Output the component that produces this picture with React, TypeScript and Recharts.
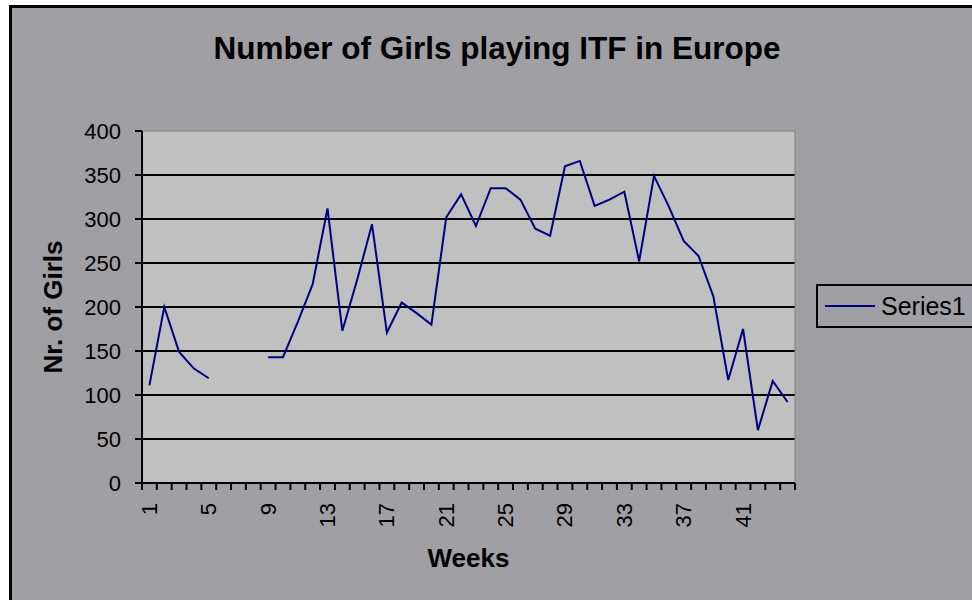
import React from "react";
import {
  LineChart,
  Line,
  XAxis,
  YAxis,
  Legend,
  CartesianGrid,
  ReferenceLine,
} from "recharts";

// weekly counts, weeks 6-8 have no data
const weeks = Array.from({ length: 44 }, (_, i) => i + 1);
const girls: (number | null)[] = [
  111, 200, 149, 130, 119, null, null, null, 143, 143,
  183, 226, 312, 173, 231, 294, 171, 205, 193, 180,
  302, 328, 292, 335, 335, 322, 289, 281, 360, 366,
  315, 322, 331, 252, 349, 314, 275, 258, 212, 117,
  175, 60, 116, 92,
];
const weekLabels = [1, 5, 9, 13, 17, 21, 25, 29, 33, 37, 41];
const yTicks = [0, 50, 100, 150, 200, 250, 300, 350, 400];
const gridValues = [50, 100, 150, 200, 250, 300, 350];
// category boundaries, where Excel puts the small tick marks
const boundaries = Array.from({ length: 45 }, (_, i) => i + 0.5);

const data = weeks.map((w, i) => ({ week: w, girls: girls[i] }));

const font = "'Liberation Sans', Arial, sans-serif";

const WeekTick = ({ x, y, payload }: any) => (
  <text
    x={x}
    y={y}
    transform={`rotate(-90, ${x}, ${y})`}
    textAnchor="end"
    dominantBaseline="central"
    fontSize={22}
    fontFamily={font}
    fill="#000"
  >
    {payload.value}
  </text>
);

const YLabel = ({ viewBox }: any) => {
  const cx = viewBox.x + 53;
  const cy = viewBox.y + viewBox.height / 2;
  return (
    <text
      x={cx}
      y={cy}
      transform={`rotate(-90, ${cx}, ${cy})`}
      textAnchor="middle"
      dominantBaseline="central"
      fontSize={26}
      fontWeight="bold"
      fontFamily={font}
      fill="#000"
    >
      Nr. of Girls
    </text>
  );
};

const XLabel = ({ viewBox }: any) => (
  <text
    x={viewBox.x + viewBox.width / 2}
    y={viewBox.y + 67}
    textAnchor="middle"
    dominantBaseline="central"
    fontSize={26}
    fontWeight="bold"
    fontFamily={font}
    fill="#000"
  >
    Weeks
  </text>
);

const LegendBox = () => (
  <div
    style={{
      border: "2px solid #000",
      width: 170,
      height: 44,
      boxSizing: "border-box",
      display: "flex",
      alignItems: "center",
      fontFamily: font,
      fontSize: 25,
      color: "#000",
    }}
  >
    <span
      style={{
        display: "inline-block",
        width: 50,
        height: 2,
        background: "#000080",
        marginLeft: 7,
        marginRight: 6,
      }}
    />
    Series1
  </div>
);

export default function App() {
  return (
    <div
      style={{
        position: "absolute",
        left: 0,
        top: 0,
        width: 972,
        height: 600,
        background: "#fff",
        overflow: "hidden",
      }}
    >
      <div
        style={{
          position: "absolute",
          left: 9,
          top: 5,
          width: 980,
          height: 620,
          background: "#a09fa4",
          borderLeft: "3px solid #000",
          borderTop: "3px solid #000",
        }}
      />
      <div
        style={{
          position: "absolute",
          left: 0,
          top: 30,
          width: 994,
          textAlign: "center",
          fontFamily: font,
          fontSize: 31.5,
          fontWeight: "bold",
          color: "#000",
        }}
      >
        Number of Girls playing ITF in Europe
      </div>
      <div style={{ position: "absolute", left: 0, top: 0 }}>
        <LineChart
          width={972}
          height={600}
          data={data}
          margin={{ top: 131, right: 177, bottom: 0, left: 0 }}
        >
          <CartesianGrid
            horizontal={false}
            vertical={false}
            fill="#c0c0c0"
          />
          {gridValues.map((v) => (
            <ReferenceLine
              key={v}
              y={v}
              stroke="#000"
              strokeWidth={2}
            />
          ))}
          <ReferenceLine y={400} stroke="#808080" strokeWidth={1} />
          <ReferenceLine x={44.5} xAxisId="a" stroke="#808080" strokeWidth={1} />
          <XAxis
            xAxisId="b"
            dataKey="week"
            type="number"
            domain={[0.5, 44.5]}
            ticks={weekLabels}
            interval={0}
            height={109}
            axisLine={false}
            tickLine={false}
            tickSize={0}
            tickMargin={12}
            tick={<WeekTick />}
            label={<XLabel />}
          />
          <XAxis
            xAxisId="a"
            dataKey="week"
            type="number"
            domain={[0.5, 44.5]}
            ticks={boundaries}
            interval={0}
            tickFormatter={() => ""}
            tickSize={7}
            height={8}
            axisLine={{ stroke: "#000", strokeWidth: 2 }}
            tickLine={{ stroke: "#000", strokeWidth: 2 }}
          />
          <YAxis
            domain={[0, 400]}
            ticks={yTicks}
            width={142}
            tickSize={7}
            tickMargin={14}
            interval={0}
            axisLine={{ stroke: "#000", strokeWidth: 2 }}
            tickLine={{ stroke: "#000", strokeWidth: 2 }}
            tick={{ fill: "#000", fontSize: 22, fontFamily: font }}
            label={<YLabel />}
          />
          <Legend
            verticalAlign="middle"
            align="center"
            layout="horizontal"
            content={<LegendBox />}
            wrapperStyle={{ left: 816, top: 284, width: 170 }}
          />
          <Line
            xAxisId="a"
            dataKey="girls"
            stroke="#000080"
            strokeWidth={2}
            dot={false}
            activeDot={false}
            connectNulls={false}
            isAnimationActive={false}
          />
        </LineChart>
      </div>
    </div>
  );
}
